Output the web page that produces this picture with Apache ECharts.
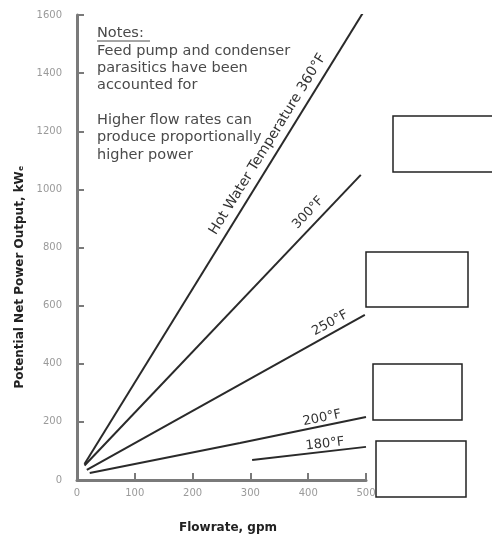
<!DOCTYPE html>
<html>
<head>
<meta charset="utf-8">
<script src="https://cdn.jsdelivr.net/npm/echarts@6/dist/echarts.min.js"></script>
<style>
html,body{margin:0;padding:0;background:#fff;}
#c{width:492px;height:538px;}
</style>
</head>
<body>
<div id="c"></div>
<script>
// Data (flowrate gpm, net power kWe)
const xTicks = [0, 100, 200, 300, 400, 500];
const yTicks = [0, 200, 400, 600, 800, 1000, 1200, 1400, 1600];
const seriesNames = ["360°F", "300°F", "250°F", "200°F", "180°F"];
const s360 = [[13, 55], [497, 1615]];
const s300 = [[13, 50], [491, 1050]];
const s250 = [[17, 35], [498, 568]];
const s200 = [[22, 24], [282, 127], [500, 217]];
const s180 = [[303, 69], [500, 114]];
const lineLabels = ["Hot Water Temperature 360°F", "300°F", "250°F", "200°F", "180°F"];
const labelAnchors = [[330, 1155], [400, 919], [438, 540], [424, 213], [429, 124]];
const labelSizes = [14, 13, 13, 13, 13];
const notesTitle = "Notes:";
const notesLines = ["Feed pump and condenser", "parasitics have been", "accounted for", "", "Higher flow rates can", "produce proportionally", "higher power"];

const allSeries = [s360, s300, s250, s200, s180];

const chart = echarts.init(document.getElementById('c'), null, {renderer: 'canvas'});
const axisLineStyle = {show: true, onZero: false, lineStyle: {color: '#7a7a7a', width: 3}};
const axisTickStyle = {show: true, inside: true, length: 7, lineStyle: {color: '#7a7a7a', width: 2}};
chart.setOption({
  animation: false,
  backgroundColor: '#fff',
  grid: {left: 77, right: 126, top: 15, bottom: 58, containLabel: false},
  xAxis: {
    type: 'value', min: xTicks[0], max: xTicks[xTicks.length - 1], interval: xTicks[1] - xTicks[0],
    axisLine: axisLineStyle, axisTick: axisTickStyle, splitLine: {show: false},
    axisLabel: {color: '#9a9a9a', fontFamily: 'DejaVu Sans', fontSize: 10, margin: 8,
      showMaxLabel: true, showMinLabel: true, formatter: v => String(v)}
  },
  yAxis: {
    type: 'value', min: yTicks[0], max: yTicks[yTicks.length - 1], interval: yTicks[1] - yTicks[0],
    axisLine: axisLineStyle, axisTick: axisTickStyle, splitLine: {show: false},
    axisLabel: {color: '#9a9a9a', fontFamily: 'DejaVu Sans', fontSize: 10, margin: 15, formatter: v => String(v)}
  },
  series: allSeries.map((d, i) => ({
    name: seriesNames[i],
    type: 'line',
    data: d,
    showSymbol: false,
    symbol: 'none',
    smooth: false,
    lineStyle: {color: '#2a2a2a', width: 2}
  }))
});

function render() {
  const g = [];
  allSeries.forEach((d, i) => {
    const p0 = chart.convertToPixel({gridIndex: 0}, d[d.length - 2]);
    const p1 = chart.convertToPixel({gridIndex: 0}, d[d.length - 1]);
    const ang = Math.atan2(p0[1] - p1[1], p1[0] - p0[0]);
    const c = chart.convertToPixel({gridIndex: 0}, labelAnchors[i]);
    g.push({
      type: 'text', x: c[0], y: c[1], rotation: ang,
      style: {text: lineLabels[i], fill: '#333', font: labelSizes[i] + 'px "DejaVu Sans"', align: 'center', verticalAlign: 'middle'}
    });
  });
  g.push({type: 'text', x: 97, y: 33, style: {text: notesTitle, fill: '#4a4a4a', font: '14.5px "DejaVu Sans"', verticalAlign: 'middle'}});
  g.push({type: 'line', shape: {x1: 97, y1: 41, x2: 150, y2: 41}, style: {stroke: '#4a4a4a', lineWidth: 1}});
  notesLines.forEach((t, k) => {
    if (!t) return;
    g.push({type: 'text', x: 97, y: 51 + k * 17.3, style: {text: t, fill: '#4a4a4a', font: '14.5px "DejaVu Sans"', verticalAlign: 'middle'}});
  });
  g.push({type: 'text', x: 20, y: 277, rotation: Math.PI / 2,
    style: {text: 'Potential Net Power Output, kWₑ', fill: '#222', font: 'bold 12px "DejaVu Sans"', align: 'center', verticalAlign: 'middle'}});
  g.push({type: 'text', x: 228, y: 528,
    style: {text: 'Flowrate, gpm', fill: '#222', font: 'bold 12px "DejaVu Sans"', align: 'center', verticalAlign: 'middle'}});
  const boxes = [[393, 116, 102, 56], [366, 252, 102, 55], [373, 364, 89, 56], [376, 441, 90, 56]];
  boxes.forEach(b => g.push({type: 'rect', shape: {x: b[0], y: b[1], width: b[2], height: b[3]},
    style: {fill: '#fff', stroke: '#222', lineWidth: 1.5}}));
  chart.setOption({graphic: g});
}
render();
</script>
</body>
</html>
